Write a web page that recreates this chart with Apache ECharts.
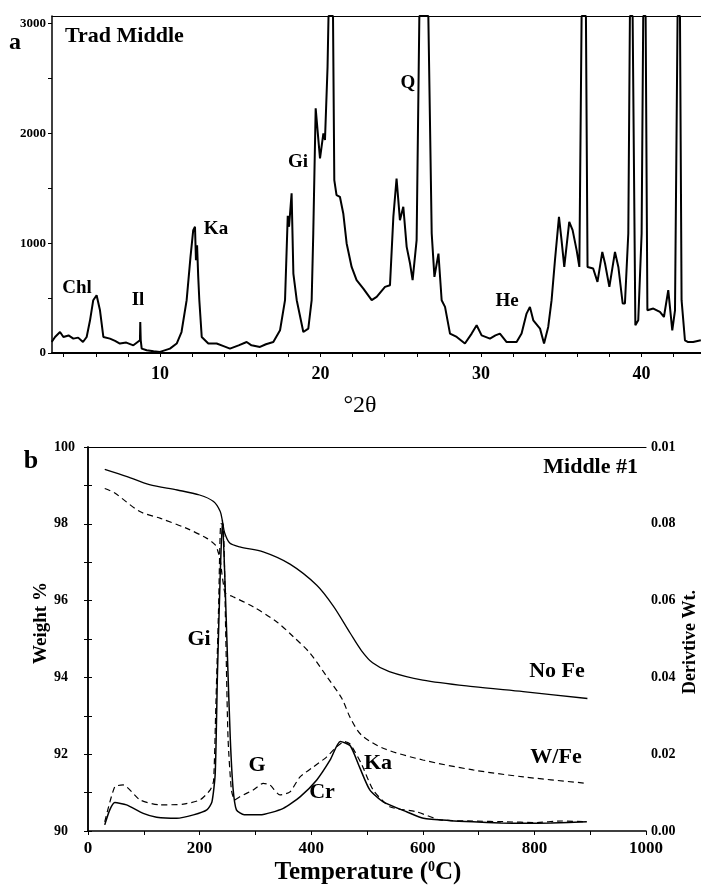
<!DOCTYPE html>
<html>
<head>
<meta charset="utf-8">
<script src="https://cdn.jsdelivr.net/npm/echarts@6/dist/echarts.min.js"></script>
<style>
html,body{margin:0;padding:0;background:#fff;}
#main{width:701px;height:885px;}
</style>
</head>
<body>
<div id="main"></div>
<script>
// (a) XRD pattern, Trad Middle
var xrdTheta = [3.25,3.46,3.77,3.98,4.3,4.6,4.9,5.2,5.43,5.64,5.84,6.05,6.26,6.47,6.88,7.2,7.5,7.9,8.34,8.75,8.77,8.8,8.86,9.17,9.6,10.0,10.62,11.04,11.34,11.66,11.9,12.07,12.18,12.24,12.31,12.38,12.45,12.6,13.01,13.53,14.0,14.36,14.9,15.4,15.7,16.23,16.6,17.06,17.48,17.79,17.96,18.04,18.2,18.31,18.52,18.93,19.24,19.45,19.55,19.7,19.87,19.97,20.18,20.28,20.44,20.5,20.78,20.86,21.0,21.21,21.42,21.63,21.94,22.25,22.67,23.19,23.5,24.02,24.33,24.54,24.74,24.95,25.16,25.37,25.58,25.74,25.99,26.16,26.72,26.93,27.1,27.35,27.55,27.76,28.07,28.49,29.0,29.42,29.73,30.04,30.56,30.9,31.18,31.6,32.22,32.53,32.84,33.05,33.26,33.68,33.93,34.19,34.4,34.61,34.86,35.02,35.19,35.5,35.71,35.96,36.13,36.27,36.54,36.64,36.99,37.26,37.56,37.73,38.0,38.35,38.56,38.83,38.97,39.18,39.28,39.45,39.62,39.8,40.01,40.11,40.26,40.37,40.74,41.15,41.4,41.67,41.92,42.09,42.25,42.4,42.5,42.71,42.91,43.22,43.7];
var xrdCounts = [100,146,191,146,160,131,140,100,146,298,481,526,389,146,131,110,86,95,70,116,283,116,40,25,15,10,40,86,191,481,876,1119,1150,845,982,700,481,146,86,86,60,40,70,100,70,55,80,100,207,481,1250,1150,1454,724,481,191,222,481,1089,2229,1940,1773,2001,1940,2608,3070,3070,1575,1438,1423,1271,998,784,663,587,481,511,602,617,1240,1590,1210,1332,967,815,663,1028,3070,3070,1089,693,906,481,420,177,146,86,177,253,161,131,160,177,100,100,177,359,420,298,222,86,237,481,845,1240,1028,784,1195,1119,937,784,3070,3070,784,770,648,921,815,602,921,784,451,451,1089,3070,3070,253,298,1089,3070,3070,389,405,374,328,572,207,389,3070,3070,481,116,100,100,116];

// (b) TGA, Middle #1
var tempNoFe = [30,70,110,160,200,225,237,241,245,254,272,314,362,410,440,470,490,510,540,600,690,780,895];
var weightNoFe = [99.42,99.23,99.02,98.88,98.75,98.58,98.32,98.06,97.76,97.5,97.4,97.27,96.95,96.4,95.85,95.15,94.7,94.38,94.15,93.93,93.76,93.63,93.45];
var tempWFe = [30,48,93,130,177,213,228,234,237,240,243,246,260,296,338,368,398,428,455,470,490,530,600,690,780,895];
var weightWFe = [98.92,98.8,98.32,98.14,97.88,97.62,97.45,97.23,97.06,96.7,96.4,96.2,96.1,95.84,95.45,95.06,94.63,94.02,93.45,92.95,92.5,92.15,91.85,91.59,91.41,91.24];

var tempDerNoFe = [30,39,48,69,99,123,159,189,213,222,228,232,237,241,245,250,255,260,266,280,308,350,380,410,434,452,470,487,505,529,571,601,650,690,740,780,830,894];
var derivNoFe = [0.0016,0.0055,0.0074,0.0068,0.0046,0.0036,0.0033,0.0042,0.0055,0.0075,0.015,0.041,0.067,0.081,0.067,0.045,0.024,0.011,0.0055,0.0042,0.0042,0.0059,0.0089,0.0133,0.0185,0.0233,0.0222,0.0165,0.0107,0.0076,0.005,0.0033,0.0027,0.0024,0.0021,0.002,0.0021,0.0024];
var tempDerWFe = [30,48,63,93,129,171,201,219,225,229,234,238,242,247,251,257,263,272,296,314,326,344,362,380,404,428,446,460,470,490,511,541,589,631,690,750,800,850,894];
var derivWFe = [0.0024,0.0115,0.012,0.0081,0.0068,0.007,0.0081,0.0107,0.013,0.032,0.058,0.08,0.08,0.05,0.024,0.0107,0.0081,0.0089,0.0107,0.0124,0.012,0.0094,0.0102,0.0141,0.0167,0.0193,0.022,0.0233,0.0226,0.0175,0.0107,0.0063,0.005,0.0029,0.0026,0.0024,0.0022,0.0026,0.0024];

function pairs(xs, ys) {
  var out = [];
  for (var i = 0; i < xs.length; i++) out.push([xs[i], ys[i]]);
  return out;
}

var serif = '"Liberation Serif", "Times New Roman", serif';
var lbl = function (size) {
  return {color: '#000', fontFamily: serif, fontWeight: 'bold', fontSize: size};
};
function txt(text, x, y, size, extra) {
  var s = {text: text, x: 0, y: 0, fill: '#000', font: 'bold ' + size + 'px ' + serif, align: 'center', verticalAlign: 'middle'};
  for (var k in (extra || {})) s[k] = extra[k];
  return {type: 'text', x: x, y: y, style: s, z: 100};
}

var myChart = echarts.init(document.getElementById('main'));
var option = {
  backgroundColor: '#fff',
  animation: false,
  grid: [
    {left: 52, right: 0, top: 16, bottom: 532},
    {left: 88, right: 55, top: 447, bottom: 54}
  ],
  xAxis: [
    {
      gridIndex: 0, type: 'value', position: 'bottom',
      min: 3.27, max: 43.71, splitNumber: 20,
      axisLine: {lineStyle: {color: '#000', width: 2}},
      axisTick: {length: 4, lineStyle: {color: '#000'}},
      splitLine: {show: false},
      axisLabel: Object.assign(lbl(18), {
        margin: 12, showMinLabel: false, showMaxLabel: false,
        formatter: function (v) { return Math.abs(v % 10) < 1e-6 ? String(Math.round(v)) : ''; }
      })
    },
    {
      gridIndex: 0, type: 'value', position: 'top', min: 3.27, max: 43.71,
      axisLine: {lineStyle: {color: '#000', width: 1.2}},
      axisTick: {show: false}, axisLabel: {show: false}, splitLine: {show: false}
    },
    {
      gridIndex: 1, type: 'value', position: 'bottom',
      min: 0, max: 1000, interval: 100,
      axisLine: {lineStyle: {color: '#000', width: 1.5}},
      axisTick: {length: 4, lineStyle: {color: '#000'}},
      splitLine: {show: false},
      axisLabel: Object.assign(lbl(17), {
        margin: 9,
        formatter: function (v) { return v % 200 === 0 ? String(v) : ''; }
      })
    },
    {
      gridIndex: 1, type: 'value', position: 'top', min: 0, max: 1000,
      axisLine: {lineStyle: {color: '#000', width: 1.2}},
      axisTick: {show: false}, axisLabel: {show: false}, splitLine: {show: false}
    }
  ],
  yAxis: [
    {
      gridIndex: 0, type: 'value', min: 0, max: 3070, interval: 500,
      axisLine: {show: true, lineStyle: {color: '#000', width: 1.5}},
      axisTick: {show: true, length: 4, lineStyle: {color: '#000'}},
      splitLine: {show: false},
      axisLabel: Object.assign(lbl(13), {
        margin: 6, showMaxLabel: false,
        formatter: function (v) { return v % 1000 === 0 ? String(v) : ''; }
      })
    },
    {
      gridIndex: 1, type: 'value', min: 90, max: 100, interval: 1,
      axisLine: {show: true, lineStyle: {color: '#000', width: 1.5}},
      axisTick: {show: true, length: 4, lineStyle: {color: '#000'}},
      splitLine: {show: false},
      axisLabel: Object.assign(lbl(14), {
        margin: 34, align: 'left',
        formatter: function (v) { return v % 2 === 0 ? String(v) : ''; }
      })
    },
    {
      gridIndex: 1, type: 'value', position: 'right', min: 0, max: 0.1, interval: 0.01,
      axisLine: {show: true, lineStyle: {color: '#000', width: 1.5}},
      axisTick: {show: true, length: 4, lineStyle: {color: '#000'}},
      splitLine: {show: false},
      axisLabel: Object.assign(lbl(14), {
        margin: 5,
        formatter: function (v) {
          var n = Math.round(v * 100);
          if (n % 2 !== 0) return '';
          if (n === 10) return '0.01';
          return (n / 100).toFixed(2);
        }
      })
    }
  ],
  series: [
    {
      name: 'XRD', type: 'line', xAxisIndex: 0, yAxisIndex: 0,
      data: pairs(xrdTheta, xrdCounts), symbol: 'none',
      lineStyle: {color: '#000', width: 2}
    },
    {
      name: 'No Fe', type: 'line', xAxisIndex: 2, yAxisIndex: 1,
      data: pairs(tempNoFe, weightNoFe), symbol: 'none', smooth: 0.3,
      lineStyle: {color: '#000', width: 1.3}
    },
    {
      name: 'W/Fe', type: 'line', xAxisIndex: 2, yAxisIndex: 1,
      data: pairs(tempWFe, weightWFe), symbol: 'none', smooth: 0.3,
      lineStyle: {color: '#000', width: 1.2, type: [6, 4]}
    },
    {
      name: 'No Fe deriv', type: 'line', xAxisIndex: 2, yAxisIndex: 2,
      data: pairs(tempDerNoFe, derivNoFe), symbol: 'none', smooth: 0.2,
      lineStyle: {color: '#000', width: 1.5}
    },
    {
      name: 'W/Fe deriv', type: 'line', xAxisIndex: 2, yAxisIndex: 2,
      data: pairs(tempDerWFe, derivWFe), symbol: 'none', smooth: 0.2,
      lineStyle: {color: '#000', width: 1.2, type: [6, 4]}
    }
  ],
  graphic: [
    txt('a', 15, 43, 24),
    txt('Trad Middle', 65, 36, 22, {align: 'left'}),
    txt('Chl', 77, 288, 19),
    txt('Il', 138, 300, 19),
    txt('Ka', 216, 229, 19),
    txt('Gi', 298, 162, 19),
    txt('Q', 408, 83, 19),
    txt('He', 507, 301, 19),
    txt('\u00b02\u03b8', 360, 406, 24, {font: '24px ' + serif}),
    txt('b', 31, 461, 26),
    txt('Middle #1', 638, 467, 22, {align: 'right'}),
    txt('Gi', 199, 639, 22),
    txt('G', 257, 765, 22),
    txt('Cr', 322, 792, 22),
    txt('Ka', 378, 763, 22),
    txt('No Fe', 557, 671, 22),
    txt('W/Fe', 556, 757, 22),
    {
      type: 'text', x: 41, y: 623, rotation: Math.PI / 2, z: 100,
      style: {text: 'Weight %', x: 0, y: 0, fill: '#000', font: 'bold 19px ' + serif, align: 'center', verticalAlign: 'middle'}
    },
    {
      type: 'text', x: 690, y: 642, rotation: Math.PI / 2, z: 100,
      style: {text: 'Derivtive Wt.', x: 0, y: 0, fill: '#000', font: 'bold 18px ' + serif, align: 'center', verticalAlign: 'middle'}
    },
    {
      type: 'text', x: 368, y: 873, z: 100,
      style: {
        text: 'Temperature ({s|0}C)', x: 0, y: 0, fill: '#000',
        font: 'bold 25px ' + serif, align: 'center', verticalAlign: 'middle',
        rich: {s: {fontSize: 14, fontWeight: 'bold', fontFamily: serif, verticalAlign: 'top', fill: '#000'}}
      }
    }
  ]
};
myChart.setOption(option);
</script>
</body>
</html>
